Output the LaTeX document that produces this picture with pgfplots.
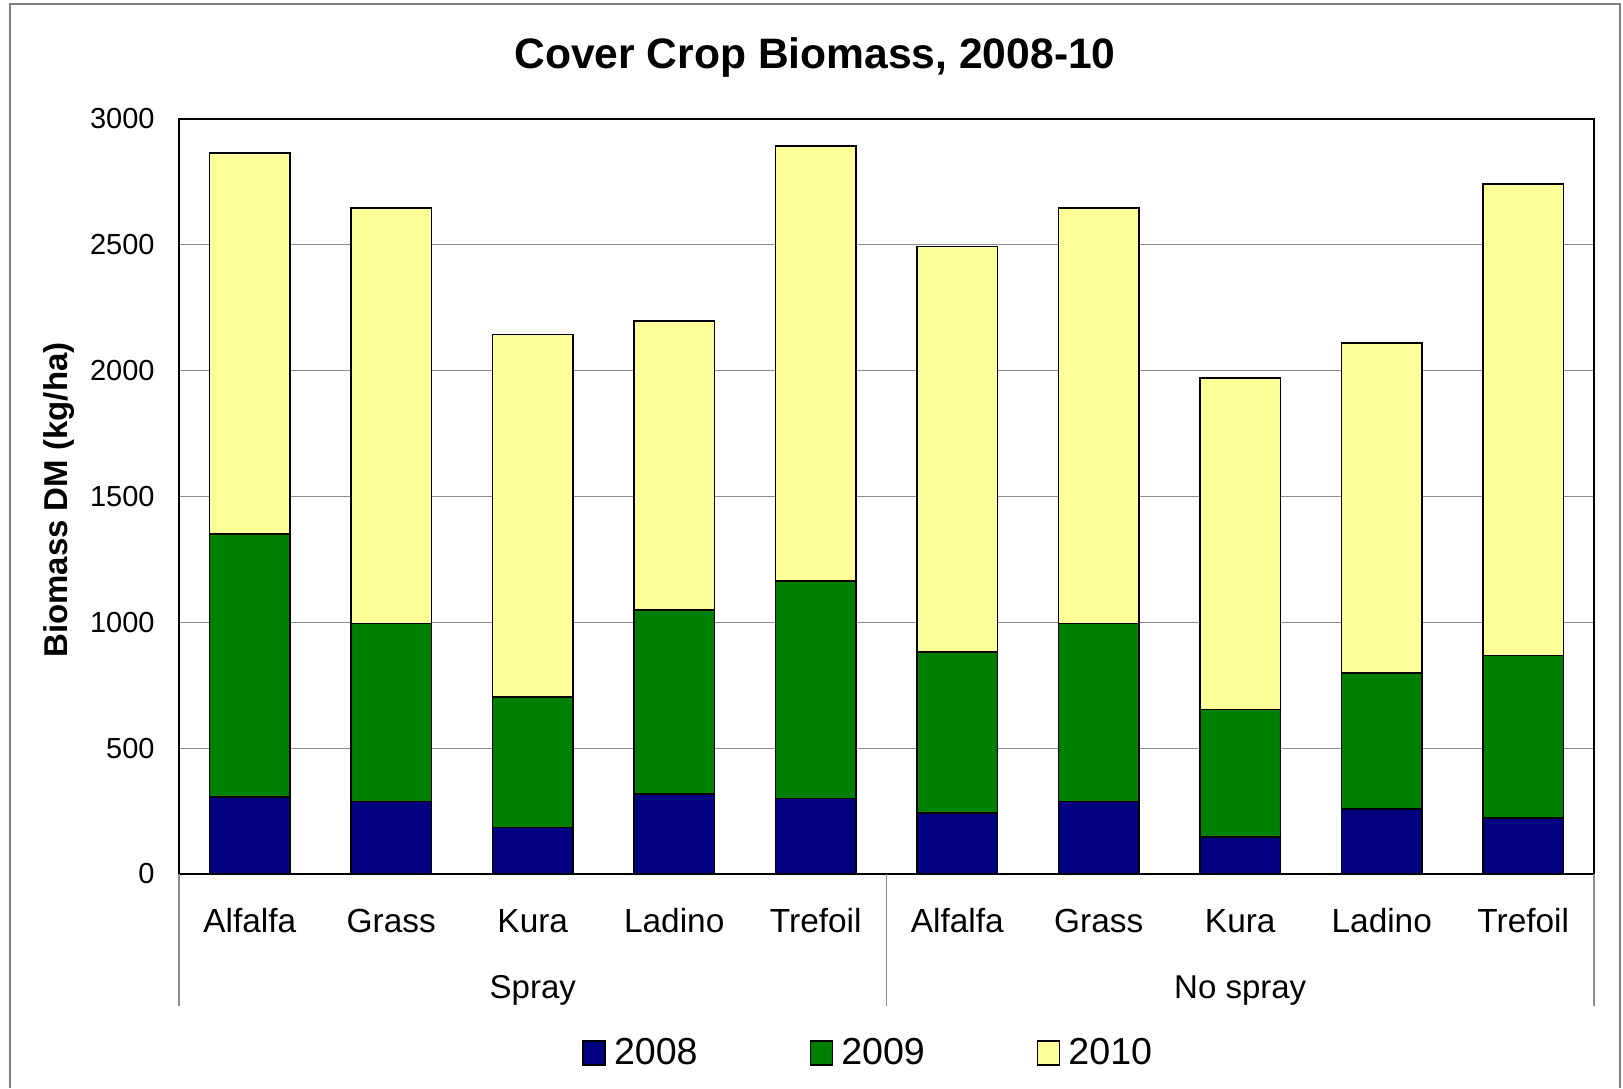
\documentclass[border=0pt]{standalone}
\usepackage{fontspec}
\setmainfont{Liberation Sans}
\usepackage{pgfplots}
\pgfplotsset{compat=1.18}

\definecolor{c2008}{RGB}{0,0,128}
\definecolor{c2009}{RGB}{0,128,0}
\definecolor{c2010}{RGB}{255,255,153}

\begin{document}
\begin{tikzpicture}
% page frame and outer labels (1 unit = 0.5pt, y downwards)
\begin{scope}[x=0.5pt,y=-0.5pt]
  \draw[black!50, line width=0.8pt] (10,1088) -- (10,4) -- (1620,4) -- (1620,1088);
  \node[font=\bfseries\fontsize{21.3}{25}\selectfont, anchor=base, inner sep=0pt] at (815,68) {Cover Crop Biomass, 2008-10};
  \node[font=\bfseries\fontsize{16.5}{20}\selectfont, rotate=90, inner sep=0pt] at (59,500) {Biomass DM (kg/ha)};
\end{scope}

\begin{axis}[
  at={(89.5pt,-437pt)}, anchor=south west,
  scale only axis, width=707.5pt, height=377.5pt,
  ybar stacked, bar width=0.57,
  xmin=-0.5, xmax=9.5, ymin=0, ymax=3000,
  xtick={0,...,9},
  xticklabels={Alfalfa,Grass,Kura,Ladino,Trefoil,Alfalfa,Grass,Kura,Ladino,Trefoil},
  ytick={0,500,...,3000},
  major tick length=0pt,
  ymajorgrids, grid style={black!45, line width=0.6pt},
  axis line style={black, line width=1pt},
  /pgf/number format/assume math mode=true,
  scaled y ticks=false,
  yticklabel style={font=\fontsize{14.5}{16}\selectfont, anchor=east, inner sep=0pt, xshift=-12pt,
    /pgf/number format/1000 sep={}},
  xticklabel style={font=\fontsize{16.7}{19}\selectfont, anchor=base, inner sep=0pt, yshift=-29pt},
  clip=false,
  legend columns=3,
  legend style={draw=none, fill=none, inner sep=0pt,
    at={(0.2848,-0.237)}, anchor=west,
    font=\fontsize{18.8}{21}\selectfont,
    /tikz/every odd column/.append style={column sep=2pt},
    /tikz/every even column/.append style={column sep=54pt}},
  legend image code/.code={\draw[#1, line width=0.8pt] (0pt,-6pt) rectangle (11pt,6pt);},
]
% 2008
\addplot[fill=c2008, draw=black, line width=0.8pt] coordinates {
  (0,305) (1,288) (2,185) (3,317) (4,300) (5,243) (6,288) (7,148) (8,259) (9,222)};
% 2009
\addplot[fill=c2009, draw=black, line width=0.8pt] coordinates {
  (0,1045) (1,708) (2,519) (3,732) (4,865) (5,638) (6,708) (7,506) (8,539) (9,646)};
% 2010
\addplot[fill=c2010, draw=black, line width=0.8pt] coordinates {
  (0,1514) (1,1650) (2,1440) (3,1148) (4,1728) (5,1613) (6,1650) (7,1317) (8,1313) (9,1873)};
\legend{2008,2009,2010}

% group separators and group labels
\draw[black!45, line width=0.6pt] (axis cs:-0.5,0) -- ++(0pt,-66pt);
\draw[black!45, line width=0.6pt] (axis cs:4.5,0) -- ++(0pt,-66pt);
\draw[black!45, line width=0.6pt] (axis cs:9.5,0) -- ++(0pt,-66pt);
\node[anchor=base, inner sep=0pt, yshift=-62pt, font=\fontsize{16.5}{19}\selectfont] at (axis cs:2,0) {Spray};
\node[anchor=base, inner sep=0pt, yshift=-62pt, font=\fontsize{16.5}{19}\selectfont] at (axis cs:7,0) {No spray};
\end{axis}

% fixed page extent
\pgfresetboundingbox
\path (0pt,0pt) rectangle (811.5pt,-544pt);
\end{tikzpicture}
\end{document}
